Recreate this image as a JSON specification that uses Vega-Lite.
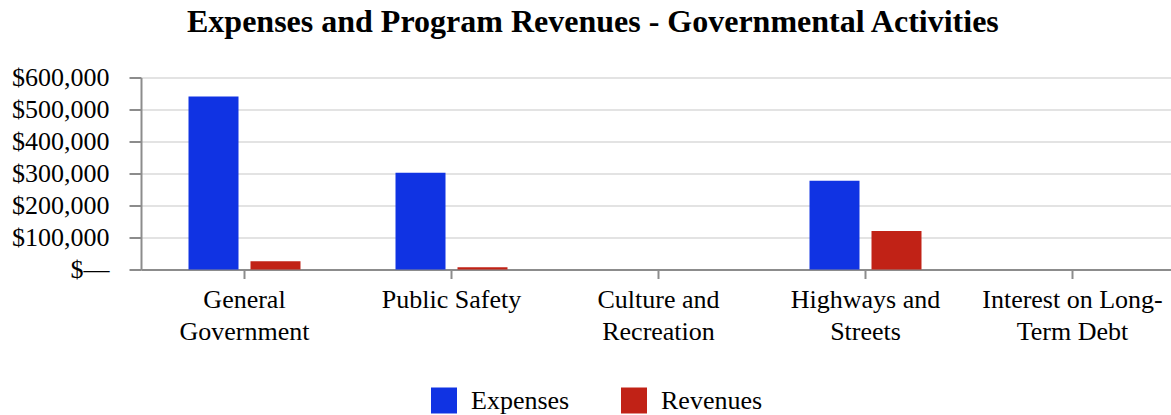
{
  "$schema": "https://vega.github.io/schema/vega-lite/v6.json",
  "autosize": "none",
  "width": 1035,
  "height": 192,
  "padding": {"left": 141, "top": 77.5, "right": 0, "bottom": 145.5},
  "background": "white",
  "title": {
    "text": "Expenses and Program Revenues - Governmental Activities",
    "font": "Liberation Serif",
    "fontSize": 32,
    "fontWeight": "bold",
    "color": "#000000",
    "anchor": "start",
    "frame": "group",
    "dx": 46,
    "offset": 26
  },
  "data": {
    "values": [
      {"category": "General Government", "series": "Expenses", "value": 541000},
      {"category": "General Government", "series": "Revenues", "value": 26000},
      {"category": "Public Safety", "series": "Expenses", "value": 302000},
      {"category": "Public Safety", "series": "Revenues", "value": 7000},
      {"category": "Culture and Recreation", "series": "Expenses", "value": 0},
      {"category": "Culture and Recreation", "series": "Revenues", "value": 0},
      {"category": "Highways and Streets", "series": "Expenses", "value": 277000},
      {"category": "Highways and Streets", "series": "Revenues", "value": 120000},
      {"category": "Interest on Long-Term Debt", "series": "Expenses", "value": 0},
      {"category": "Interest on Long-Term Debt", "series": "Revenues", "value": 0}
    ]
  },
  "mark": {"type": "bar"},
  "encoding": {
    "x": {
      "field": "category",
      "type": "nominal",
      "sort": null,
      "scale": {"paddingInner": 0.459, "paddingOuter": 0.2295},
      "axis": {
        "title": null,
        "labelAngle": 0,
        "labelFont": "Liberation Serif",
        "labelFontSize": 26,
        "labelColor": "#000000",
        "labelLineHeight": 32,
        "labelPadding": 8,
        "labelLimit": 400,
        "labelExpr": "datum.value == 'General Government' ? ['General', 'Government'] : datum.value == 'Culture and Recreation' ? ['Culture and', 'Recreation'] : datum.value == 'Highways and Streets' ? ['Highways and', 'Streets'] : datum.value == 'Interest on Long-Term Debt' ? ['Interest on Long-', 'Term Debt'] : datum.value",
        "domainColor": "#8c8c8c",
        "domainWidth": 2,
        "tickColor": "#8c8c8c",
        "tickWidth": 2,
        "tickSize": 9,
        "grid": false
      }
    },
    "xOffset": {
      "field": "series",
      "type": "nominal",
      "scale": {"paddingInner": 0.1935, "paddingOuter": 0}
    },
    "y": {
      "field": "value",
      "type": "quantitative",
      "scale": {"domain": [0, 600000], "nice": false},
      "axis": {
        "title": null,
        "values": [0, 100000, 200000, 300000, 400000, 500000, 600000],
        "labelExpr": "datum.value == 0 ? '$\u2014' : '$' + format(datum.value, ',')",
        "labelFont": "Liberation Serif",
        "labelFontSize": 26,
        "labelColor": "#000000",
        "labelPadding": 20,
        "domainColor": "#8c8c8c",
        "domainWidth": 2,
        "tickColor": "#8c8c8c",
        "tickWidth": 2,
        "tickSize": 12,
        "gridColor": "#e3e3e3",
        "gridWidth": 2
      }
    },
    "color": {
      "field": "series",
      "type": "nominal",
      "scale": {"domain": ["Expenses", "Revenues"], "range": ["#1033e3", "#c12216"]},
      "legend": {
        "title": null,
        "orient": "none",
        "legendX": 290,
        "legendY": 310,
        "direction": "horizontal",
        "symbolType": "square",
        "symbolSize": 676,
        "symbolStrokeWidth": 0,
        "labelFont": "Liberation Serif",
        "labelFontSize": 26,
        "labelColor": "#000000",
        "labelOffset": 14,
        "columnPadding": 51
      }
    }
  },
  "config": {"view": {"stroke": null}}
}
